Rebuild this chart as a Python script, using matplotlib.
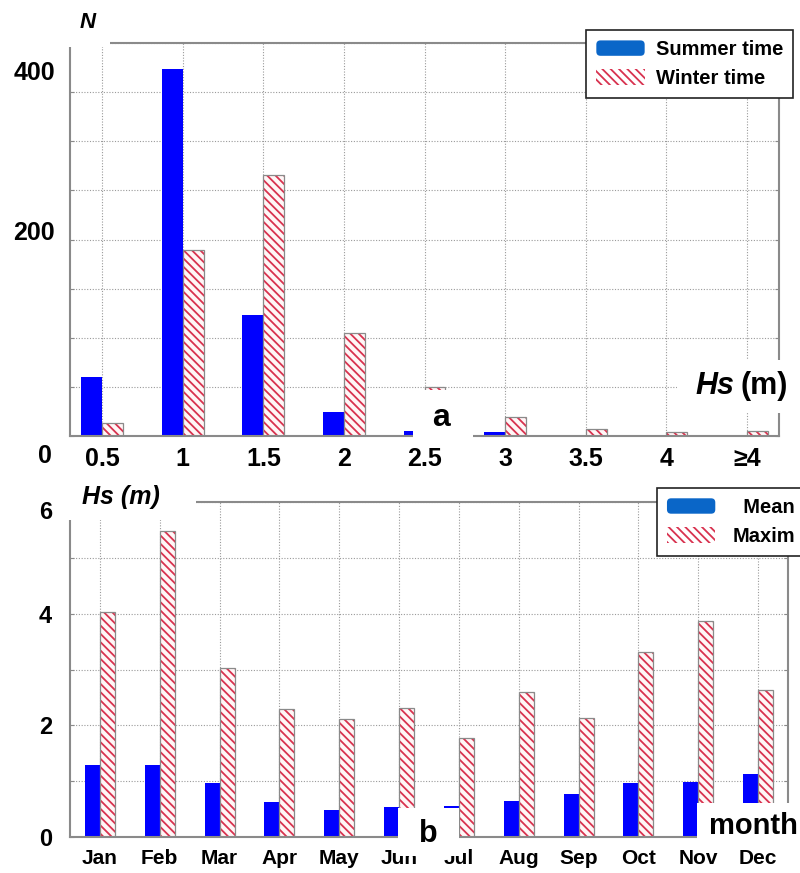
import numpy as np
import matplotlib.pyplot as plt
from matplotlib.patches import Rectangle, Patch, FancyBboxPatch
from matplotlib.legend_handler import HandlerPatch
from matplotlib.transforms import ScaledTranslation

plt.rcParams['font.family'] = ['Liberation Sans', 'DejaVu Sans']
plt.rcParams['font.weight'] = 'bold'
plt.rcParams['hatch.linewidth'] = 1.3

# (a) number of cases per Hs class
hs_classes = ['0.5', '1', '1.5', '2', '2.5', '3', '3.5', '4', '≥4']
summer = [60, 374, 123, 24, 5, 4, 0, 0, 0]
winter = [13, 189, 266, 105, 50, 19, 7, 4, 5]

# (b) monthly Hs (m)
months = ['Jan', 'Feb', 'Mar', 'Apr', 'May', 'Jun',
          'Jul', 'Aug', 'Sep', 'Oct', 'Nov', 'Dec']
hs_mean = [1.29, 1.29, 0.96, 0.63, 0.48, 0.54, 0.56, 0.64, 0.77, 0.97, 0.99, 1.13]
hs_max = [4.03, 5.48, 3.03, 2.30, 2.12, 2.31, 1.77, 2.60, 2.14, 3.31, 3.86, 2.63]

BLUE = '#0000ff'
LEG_BLUE = '#0a66c8'
RED = '#d8324f'
GREY = '#8a8a8a'
HATCH = '\\\\\\\\'

W, H = 800, 873
fig = plt.figure(figsize=(W / 100, H / 100), dpi=100)


def px(x0, y0, x1, y1):
    # pixel box (top-left origin) -> figure rect
    return [x0 / W, 1 - y1 / H, (x1 - x0) / W, (y1 - y0) / H]


class RoundHandler(HandlerPatch):
    def create_artists(self, legend, orig_handle, xdescent, ydescent,
                       width, height, fontsize, trans):
        p = FancyBboxPatch((-xdescent, -ydescent), width, height,
                           boxstyle='round,pad=0,rounding_size=3',
                           fc=orig_handle.get_facecolor(), ec='none',
                           transform=trans)
        return [p]


def style(ax):
    for s in ax.spines.values():
        s.set_color(GREY)
        s.set_linewidth(1.5)
    ax.grid(True, linestyle=(0, (1, 1.5)), color='#9a9a9a', linewidth=0.8)
    ax.set_axisbelow(True)
    ax.tick_params(axis='x', length=0)
    ax.tick_params(axis='y', direction='in', length=3, color=GREY,
                   left=True, right=True)


def hatched(ax, x, h, w):
    ax.bar(x, h, w, color='#fff6f6', edgecolor=RED, hatch=HATCH,
           linewidth=0, zorder=2)
    ax.bar(x, h, w, fill=False, edgecolor=GREY, linewidth=0.9, zorder=2.1)


def legend(ax, labels, anchor, textpad):
    hs = [Patch(facecolor=LEG_BLUE),
          Patch(facecolor='white', edgecolor=RED, hatch=HATCH, linewidth=0)]
    leg = ax.legend(hs, labels, loc='upper right', bbox_to_anchor=anchor,
                    borderaxespad=0, fancybox=False, edgecolor='#222222',
                    framealpha=1, prop={'size': 14.5, 'weight': 'bold'},
                    handlelength=2.4, handleheight=0.8,
                    handletextpad=textpad, labelspacing=0.5, borderpad=0.5,
                    handler_map={hs[0]: RoundHandler()})
    leg.get_frame().set_linewidth(1.2)
    leg.set_zorder(5)


# ---------- panel a ----------
ax1 = fig.add_axes(px(70, 43, 779, 436))
x1 = np.arange(len(hs_classes))
bw = 0.26
ax1.bar(x1 - bw / 2, summer, bw, color=BLUE, linewidth=0, zorder=2)
hatched(ax1, x1 + bw / 2, winter, bw)
ax1.set_xlim(-0.4, len(hs_classes) - 0.6)
ax1.set_ylim(0, 400)
ax1.set_yticks(np.arange(0, 401, 50))
ax1.set_yticklabels([])
ax1.set_xticks(x1)
ax1.set_xticklabels(hs_classes, fontsize=18)
style(ax1)
ax1.tick_params(axis='x', pad=8)
# y labels sit where the original figure put them
for lab, yv, xo in [('400', 369, -0.021), ('200', 207, -0.021), ('0', -20, -0.025)]:
    ax1.text(xo, yv, lab, transform=ax1.get_yaxis_transform(), ha='right',
             va='center', fontsize=18, clip_on=False)
legend(ax1, ['Summer time', 'Winter time'], (1.020, 1.033), 0.55)

# ---------- panel b ----------
ax2 = fig.add_axes(px(70, 502, 788, 837))
x2 = np.arange(len(months))
bw2 = 0.25
ax2.bar(x2 - bw2 / 2, hs_mean, bw2, color=BLUE, linewidth=0, zorder=2)
hatched(ax2, x2 + bw2 / 2, hs_max, bw2)
ax2.set_xlim(-0.5, len(months) - 0.5)
ax2.set_ylim(0, 6)
ax2.set_yticks(np.arange(0, 7))
ax2.set_yticklabels(['0', '', '2', '', '4', '', '6'], fontsize=17)
ax2.set_xticks(x2)
ax2.set_xticklabels(months, fontsize=15)
style(ax2)
ax2.tick_params(axis='x', pad=9)
ax2.tick_params(axis='y', pad=13)
# the "6" sits a bit below the top line in the original
top_lab = ax2.get_yticklabels()[-1]
top_lab.set_transform(top_lab.get_transform()
                      + ScaledTranslation(0, -0.08, fig.dpi_scale_trans))
legend(ax2, ['  Mean', 'Maxim'], (1.024, 1.042), 0.85)

# white label boxes pasted over the plots
for box in [(58, 0, 110, 47), (413, 390, 473, 442), (677, 360, 800, 413),
            (64, 478, 196, 520), (398, 808, 459, 856), (697, 803, 800, 846)]:
    r = px(*box)
    fig.add_artist(Rectangle(r[:2], r[2], r[3], transform=fig.transFigure,
                             facecolor='white', edgecolor='none', zorder=3))


def ftext(x, y, s, **kw):
    fig.text(x / W, 1 - y / H, s, zorder=4, **kw)


ftext(88, 23, 'N', fontsize=16, style='italic', ha='center', va='center')
ftext(695, 386, 'Hs', fontsize=22, style='italic', ha='left', va='center')
ftext(741, 386, '(m)', fontsize=22, ha='left', va='center')
ftext(441, 418, 'a', fontsize=23, ha='center', va='center')
ftext(82, 497, 'Hs (m)', fontsize=18, style='italic', ha='left', va='center')
ftext(428, 834, 'b', fontsize=22, ha='center', va='center')
ftext(753, 826, 'month', fontsize=21, ha='center', va='center')

fig.savefig('out.png', dpi=100)
